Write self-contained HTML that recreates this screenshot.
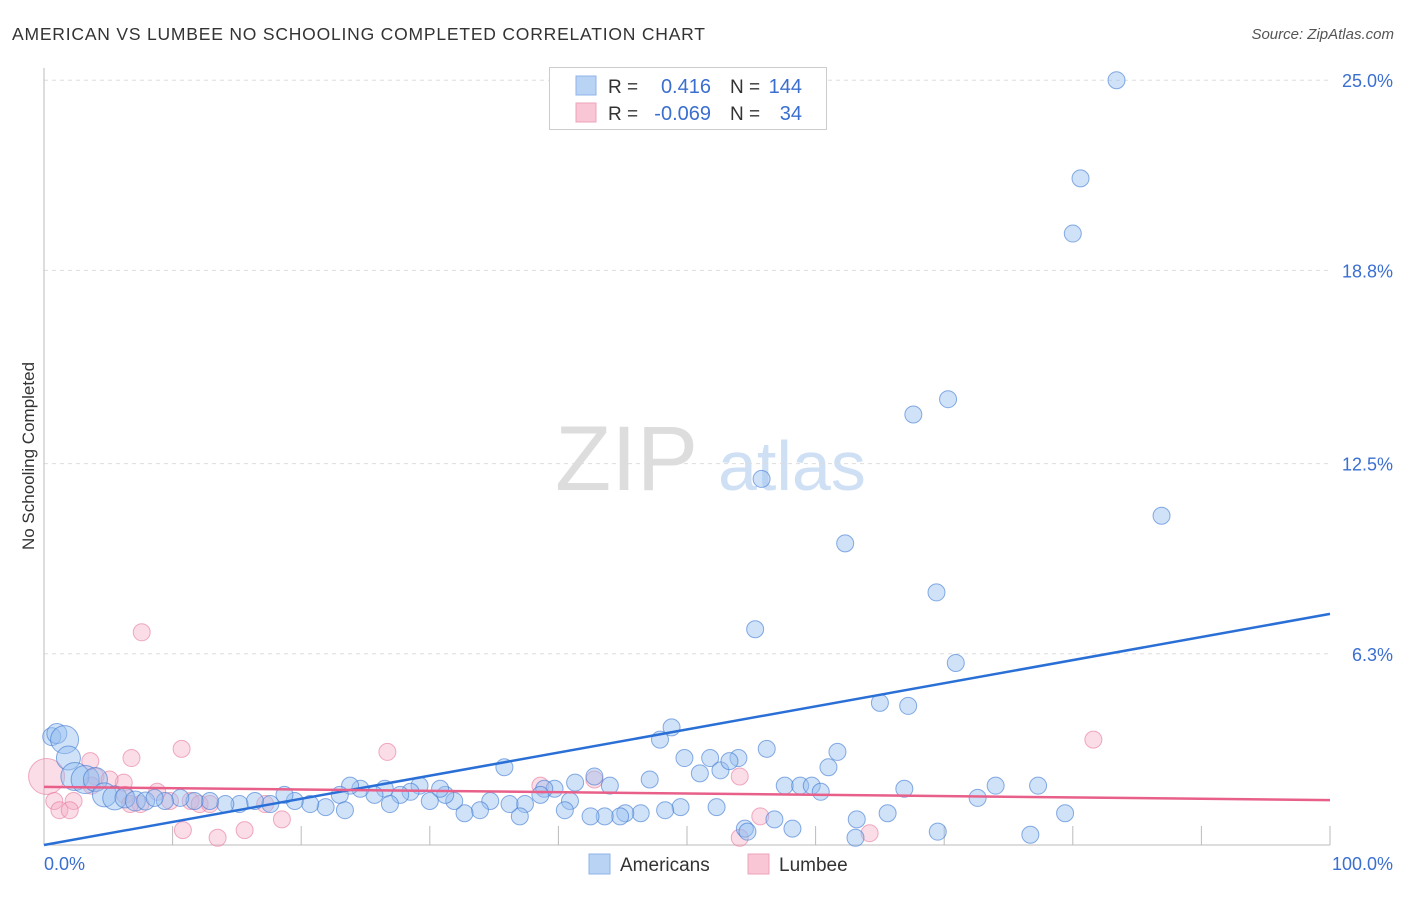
<!DOCTYPE html>
<html><head><meta charset="utf-8"><style>
body{margin:0;background:#fff;font-family:"Liberation Sans",sans-serif;}
svg text{font-family:"Liberation Sans",sans-serif;}
</style></head><body>
<svg id="c" width="1406" height="892" xmlns="http://www.w3.org/2000/svg">
<text x="12" y="40" font-size="17.5" fill="#333" textLength="693">AMERICAN VS LUMBEE NO SCHOOLING COMPLETED CORRELATION CHART</text>
<text x="1394" y="39" font-size="15" fill="#555" font-style="italic" text-anchor="end">Source: ZipAtlas.com</text>
<text x="34" y="456" font-size="17" fill="#333" text-anchor="middle" transform="rotate(-90 34 456)">No Schooling Completed</text>
<text x="555" y="490" font-size="92" fill="#ddd" font-family="Liberation Serif">ZIP</text>
<text x="718" y="490" font-size="70" fill="#cfe0f5">atlas</text>
<g id="grid"></g><g id="pts"></g><g id="lines"></g>
<g>
<rect x="549.5" y="67.5" width="277" height="62" fill="#fff" stroke="#ccc"/>
<rect x="576" y="76" width="20" height="19" fill="#b9d3f5" stroke="#8fb3e8"/>
<rect x="576" y="103" width="20" height="19" fill="#f9c6d5" stroke="#efa3ba"/>
<text x="608" y="93" font-size="19" fill="#333">R =</text>
<text x="711" y="93" font-size="20" fill="#3a6fd0" text-anchor="end">0.416</text>
<text x="730" y="93" font-size="19" fill="#333">N =</text>
<text x="802" y="93" font-size="20" fill="#3a6fd0" text-anchor="end">144</text>
<text x="608" y="120" font-size="19" fill="#333">R =</text>
<text x="711" y="120" font-size="20" fill="#3a6fd0" text-anchor="end">-0.069</text>
<text x="730" y="120" font-size="19" fill="#333">N =</text>
<text x="802" y="120" font-size="20" fill="#3a6fd0" text-anchor="end">34</text>
</g>
<g>
<rect x="589" y="854" width="21" height="20" fill="#b9d3f5" stroke="#8fb3e8"/>
<text x="620" y="871" font-size="19" fill="#333">Americans</text>
<rect x="748" y="854" width="21" height="20" fill="#f9c6d5" stroke="#efa3ba"/>
<text x="779" y="871" font-size="19" fill="#333">Lumbee</text>
</g>
</svg>
<script>
const yTicks=[6.3,12.5,18.8,25.0];
const yTickLabels=["6.3%","12.5%","18.8%","25.0%"];
const amX=[83.4,80.6,80.0,70.3,67.6,55.8,86.9,62.3,69.4,55.3,70.9,65.0,67.2,48.8,47.9,0.6,1.0,1.6,1.9,2.4,3.2,4.0,4.7,5.5,6.3,7.1,7.9,49.8,51.8,54,56.2,61.7,61,51,52.6,53.3,47.1,44,41.3,42.8,35.8,57.6,58.8,59.7,60.4,66.9,74,77.3,72.6,79.4,76.7,69.5,65.6,63.2,63.1,58.2,56.8,54.5,54.7,52.3,49.5,48.3,46.4,45.2,44.8,43.6,42.5,40.9,40.5,39.7,38.9,38.6,37.4,37,36.2,34.7,33.9,32.7,31.9,31.2,30,29.2,28.5,27.7,26.5,25.7,24.6,23.8,23,21.9,20.7,19.5,18.7,17.6,16.4,15.2,14.1,12.9,11.7,10.6,9.4,8.6,23.4,26.9,30.8];
const amY=[25.0,21.8,20.0,14.6,14.1,12.0,10.8,9.9,8.3,7.1,6.0,4.7,4.6,3.9,3.5,3.6,3.7,3.5,2.9,2.3,2.2,2.2,1.7,1.6,1.6,1.5,1.5,2.9,2.9,2.9,3.2,3.1,2.6,2.4,2.5,2.8,2.2,2.0,2.1,2.3,2.6,2.0,2.0,2.0,1.8,1.9,2.0,2.0,1.6,1.1,0.4,0.5,1.1,0.9,0.3,0.6,0.9,0.6,0.5,1.3,1.3,1.2,1.1,1.1,1.0,1.0,1.0,1.5,1.2,1.9,1.9,1.7,1.4,1.0,1.4,1.5,1.2,1.1,1.5,1.7,1.5,2.0,1.8,1.7,1.9,1.7,1.9,2.0,1.7,1.3,1.4,1.5,1.7,1.4,1.5,1.4,1.4,1.5,1.5,1.6,1.5,1.6,1.2,1.4,1.9];
const amR=[8.5,8.5,8.5,8.5,8.5,8.5,8.5,8.5,8.5,8.5,8.5,8.5,8.5,8.5,8.5,9,10,14,12,14,14,12,12,12,10,10,9];
const luX=[7.6,81.6,26.7,10.7,6.8,3.6,0.2,4,6.2,5.1,0.8,2.3,1.2,2,8.8,11.4,7.5,12.1,38.6,42.8,54.1,10.8,13.5,15.6,18.5,55.7,64.2,54.1,17.2,12.9,6.3,3.7,9.8,6.7];
const luY=[7.0,3.5,3.1,3.2,2.9,2.8,2.3,2.3,2.1,2.2,1.5,1.5,1.2,1.2,1.8,1.5,1.4,1.4,2.0,2.2,2.3,0.55,0.3,0.55,0.9,1.0,0.45,0.3,1.4,1.4,1.7,2.0,1.5,1.4];
const luR=[8.5,8.5,8.5,8.5,8.5,8.5,18];
const amTrend=[0.065,7.6];
const luTrend=[1.96,1.53];
const NS="http://www.w3.org/2000/svg";
const X0=44,X1=1330,Y0=847,YPX=191.7/6.25;
const sx=v=>X0+(X1-X0)*v/100, sy=v=>Y0-v*YPX;
function mk(t,a,p){const e=document.createElementNS(NS,t);for(const k in a)e.setAttribute(k,a[k]);p.appendChild(e);return e;}
const g=document.getElementById('grid');
yTicks.forEach((t,i)=>{
 const l=mk('line',{x1:44,x2:1330,y1:sy(t),y2:sy(t),stroke:'#ddd','stroke-dasharray':'4 4'},g);
 
 
 const tx=mk('text',{x:1393,y:sy(t)+7,'font-size':18,fill:'#3a6fd0','text-anchor':'end'},g);
 tx.textContent=yTickLabels[i];
 
 
});
mk('line',{x1:44,x2:44,y1:68,y2:845,stroke:'#bbb'},g);
mk('line',{x1:44,x2:1330,y1:845,y2:845,stroke:'#bbb'},g);
for(let i=1;i<=10;i++){const x=sx(i*10);mk('line',{x1:x,x2:x,y1:826,y2:845,stroke:'#bbb'},g);}
const x0=mk('text',{x:44,y:870,'font-size':18,fill:'#3a6fd0'},g);x0.textContent='0.0%';


const x1=mk('text',{x:1393,y:870,'font-size':18,fill:'#3a6fd0','text-anchor':'end'},g);x1.textContent='100.0%';


const P=document.getElementById('pts');
luX.forEach((v,i)=>{const c=mk('circle',{cx:sx(v),cy:sy(luY[i]),r:luR[i]||8.5,fill:'rgba(246,170,195,0.4)',stroke:'rgba(230,120,155,0.6)'},P);
 
 });
amX.forEach((v,i)=>{const c=mk('circle',{cx:sx(v),cy:sy(amY[i]),r:amR[i]||8.5,fill:'rgba(150,190,240,0.45)',stroke:'rgba(60,120,210,0.6)'},P);
 
 });
const L=document.getElementById('lines');
const a=mk('line',{x1:sx(0),y1:sy(amTrend[0]),x2:sx(100),y2:sy(amTrend[1]),stroke:'#2a6fd6','stroke-width':2.5},L);


const b=mk('line',{x1:sx(0),y1:sy(luTrend[0]),x2:sx(100),y2:sy(luTrend[1]),stroke:'#e8608a','stroke-width':2.5},L);


</script>
</body></html>
